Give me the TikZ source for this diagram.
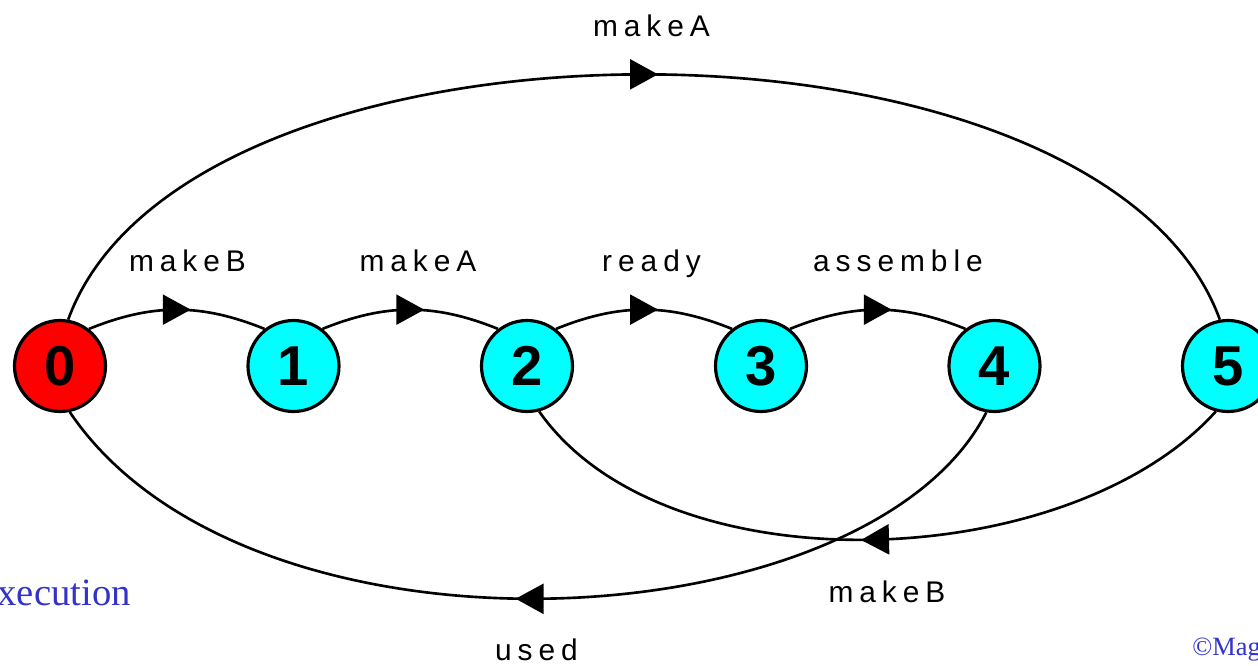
\documentclass[tikz,border=0pt]{standalone}
\usepackage{fontspec}
\setmainfont{Liberation Sans}
\newfontfamily\spacedfont{Liberation Sans}[LetterSpace=20]
\newfontfamily\timesfont{Liberation Serif}
\usetikzlibrary{arrows.meta,decorations.markings}
\definecolor{noteblue}{RGB}{51,51,204}
\definecolor{statecyan}{RGB}{0,255,255}
\definecolor{startred}{RGB}{255,0,0}

\begin{document}
\begin{tikzpicture}[
	state/.style={circle,draw,line width=1.8pt,minimum size=1.82cm,inner sep=0pt,fill=statecyan,
		font=\fontsize{32}{32}\selectfont\bfseries},
	lab/.style={anchor=base,font=\spacedfont\fontsize{17}{17}\selectfont},
	note/.style={inner sep=0pt,text=noteblue,font=\timesfont\fontsize{22}{22}\selectfont},
	trans/.style={line width=1.5pt,postaction={decorate},
		decoration={markings,mark=at position 0.5 with
			{\arrow[xshift=0.28cm]{Triangle[length=0.56cm,width=0.6cm]}}}}
]
			\path[use as bounding box,clip] (0,0) rectangle (25.16,13.3);
			% states
			\node[state,fill=startred] (s0) at (1.2,5.98) {0};
			\node[state] (s1) at (5.87,5.98) {1};
			\node[state] (s2) at (10.54,5.98) {2};
			\node[state] (s3) at (15.22,5.98) {3};
			\node[state] (s4) at (19.89,5.98) {4};
			\node[state] (s5) at (24.56,5.98) {5};
			% transitions
			\draw[trans] (s0.52) to[bend left=22] (s1.128);
			\draw[trans] (s1.52) to[bend left=22] (s2.128);
			\draw[trans] (s2.52) to[bend left=22] (s3.128);
			\draw[trans] (s3.52) to[bend left=22] (s4.128);
			\draw[trans] (s0.80) .. controls +(70:6.96) and +(110:6.96) .. (s5.100);
			\draw[trans] (s5.-105) .. controls +(-132:4.38) and +(-55:4.38) .. (s2.-75);
			\draw[trans] (s4.-100) .. controls +(-117:5.2) and +(-56:6.4) .. (s0.-78);
			% labels
			\node[lab] (l05) at (13.03,12.56) {makeA};
			\node[lab] (l01) at (3.75,7.86) {makeB};
			\node[lab] (l12) at (8.36,7.86) {makeA};
			\node[lab] (l23) at (13.03,7.86) {ready};
			\node[lab] (l34) at (17.96,7.86) {assemble};
			\node[lab] (l52) at (17.74,1.26) {makeB};
			\node[lab] (l40) at (10.73,0.1) {used};
			\node[note,anchor=base east] (exec) at (2.62,1.2) {execution};
			\node[note,anchor=base west,font=\timesfont\fontsize{15}{15}\selectfont] (copy) at (23.84,0.2) {©Mag};
\end{tikzpicture}
\end{document}
